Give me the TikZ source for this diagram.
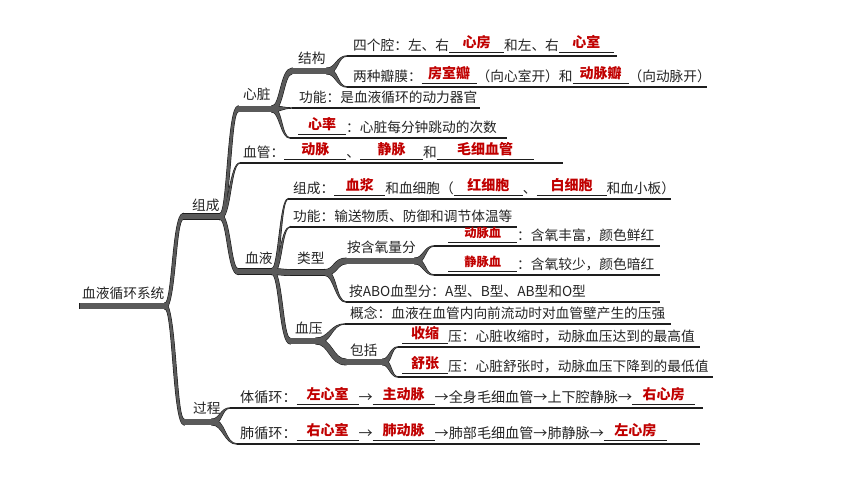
\documentclass[tikz,border=0pt]{standalone}
\usepackage{fontspec}
\setmainfont{Noto Sans CJK SC}
\usetikzlibrary{calc}

\definecolor{ansred}{RGB}{192,0,0}
\definecolor{limbgray}{RGB}{90,90,90}
\definecolor{lineblk}{RGB}{30,30,30}
\definecolor{txtblk}{RGB}{35,35,35}

\pgfdeclarelayer{under}
\pgfsetlayers{under,main}

\tikzset{
  txt/.style={anchor=base west, inner sep=0pt, text=txtblk, font=\fontsize{13.7}{16}\selectfont},
  widetxt/.style={txt, font=\fontsize{14.1}{16}\selectfont},
  uline/.style={draw=lineblk, line width=1.3pt},
}

% blank with the answer written on it
\newcommand\fillin[3][14]{\rlap{\textcolor{lineblk}{\rule[-2.8pt]{#2}{0.9pt}}}\makebox[#2]{\raisebox{3pt}{\fontsize{#1}{16}\selectfont\bfseries\color{ansred}#3}}}
\newcommand\toarr{\makebox[1em]{→}}

\newcommand\limbpath[5]{([yshift=#3]#1) .. controls ([shift={({0.55*#5*#3},#3)}]la) and ([shift={({0.55*#5*#4},#4)}]lb) .. ([yshift=#4]#2) -- ([yshift=-#4]#2) .. controls ([shift={({-0.55*#5*#4},-#4)}]lb) and ([shift={({-0.55*#5*#3},-#3)}]la) .. ([yshift=-#3]#1) -- cycle}

% tapered branch: parent end, child start, half widths, -1 up / 1 down
\newcommand\limb[5]{%
  \coordinate (lm) at ($(#1)!.5!(#2)$);
  \coordinate (la) at (lm |- #1);
  \coordinate (lb) at (lm |- #2);
  \begin{pgfonlayer}{under}
    \filldraw[lineblk, line width=1.2pt] \limbpath{#1}{#2}{#3}{#4}{#5};
  \end{pgfonlayer}
  \fill[limbgray] \limbpath{#1}{#2}{#3}{#4}{#5};}

\newcommand\trunk[2]{%
  \begin{pgfonlayer}{under}
    \draw[lineblk, line width=6.8pt] ([xshift=-0.6pt]#1) -- (#2);
  \end{pgfonlayer}
  \draw[limbgray, line width=5.6pt] (#1) -- (#2);}

\begin{document}
\begin{tikzpicture}[x=1pt,y=-1pt]
  \useasboundingbox (0,0) rectangle (860,484);

  % bars
  \coordinate (rootL) at (80,306);  \coordinate (rootR) at (165,306);
  \coordinate (zcL) at (183,216.5); \coordinate (zcR) at (220,216.5);
  \coordinate (gcL) at (184,422);   \coordinate (gcR) at (212,422);
  \coordinate (xzL) at (238,109);   \coordinate (xzR) at (272,109);
  \coordinate (xyL) at (238,271.5); \coordinate (xyR) at (272,271.5);
  \coordinate (jgL) at (292,71);    \coordinate (jgR) at (327,71);
  \coordinate (lxL) at (290,272.5); \coordinate (lxR) at (325,272.5);
  \coordinate (hyL) at (346,261);   \coordinate (hyR) at (415,261);
  \coordinate (xaL) at (290,341);   \coordinate (xaR) at (316,341);
  \coordinate (kkL) at (346,362);   \coordinate (kkR) at (383,362);

  % rows
  \coordinate (r1L) at (347,56);   \coordinate (r1R) at (617,56);
  \coordinate (r2L) at (347,87);   \coordinate (r2R) at (707,87);
  \coordinate (r3L) at (292,108);  \coordinate (r3R) at (480,108);
  \coordinate (r4L) at (290,138);  \coordinate (r4R) at (507,138);
  \coordinate (r5L) at (240,163);  \coordinate (r5R) at (563,163);
  \coordinate (r6L) at (288,199);  \coordinate (r6R) at (671,199);
  \coordinate (r7L) at (290,227);  \coordinate (r7R) at (517,227);
  \coordinate (r8L) at (434,246);  \coordinate (r8R) at (660,246);
  \coordinate (r9L) at (434,275);  \coordinate (r9R) at (660,275);
  \coordinate (r10L) at (346,302); \coordinate (r10R) at (660,302);
  \coordinate (r11L) at (345,324); \coordinate (r11R) at (671,324);
  \coordinate (r12L) at (398,347); \coordinate (r12R) at (700,347);
  \coordinate (r13L) at (398,377); \coordinate (r13R) at (713,377);
  \coordinate (r14L) at (230,408); \coordinate (r14R) at (703,408);
  \coordinate (r15L) at (237,444); \coordinate (r15R) at (700,444);

  \limb{rootR}{zcL}{2.8pt}{2.8pt}{-1}
  \limb{rootR}{gcL}{2.8pt}{2.8pt}{1}
  \limb{zcR}{xzL}{2.8pt}{2.8pt}{-1}
  \limb{zcR}{r5L}{2.8pt}{0.1pt}{-1}
  \limb{zcR}{xyL}{2.8pt}{2.8pt}{1}
  \limb{xzR}{jgL}{2.8pt}{2.8pt}{-1}
  \limb{xzR}{r3L}{2.8pt}{0.1pt}{1}
  \limb{xzR}{r4L}{2.8pt}{0.1pt}{1}
  \limb{jgR}{r1L}{2.8pt}{0.1pt}{-1}
  \limb{jgR}{r2L}{2.8pt}{0.1pt}{1}
  \limb{xyR}{r6L}{2.8pt}{0.1pt}{-1}
  \limb{xyR}{r7L}{2.8pt}{0.1pt}{-1}
  \limb{xyR}{lxL}{2.8pt}{2.8pt}{1}
  \limb{xyR}{xaL}{2.8pt}{2.8pt}{1}
  \limb{lxR}{hyL}{2.8pt}{2.8pt}{-1}
  \limb{lxR}{r10L}{2.8pt}{0.1pt}{1}
  \limb{hyR}{r8L}{2.8pt}{0.1pt}{-1}
  \limb{hyR}{r9L}{2.8pt}{0.1pt}{1}
  \limb{xaR}{r11L}{2.8pt}{0.1pt}{-1}
  \limb{xaR}{kkL}{2.8pt}{2.8pt}{1}
  \limb{kkR}{r12L}{2.8pt}{0.1pt}{-1}
  \limb{kkR}{r13L}{2.8pt}{0.1pt}{1}
  \limb{gcR}{r14L}{2.8pt}{0.1pt}{-1}
  \limb{gcR}{r15L}{2.8pt}{0.1pt}{1}

  \foreach \b in {root,zc,gc,xz,xy,jg,lx,hy,xa,kk}
    {\trunk{\b L}{\b R}}
  \foreach \r in {1,...,15}
    \draw[uline] (r\r L) -- (r\r R);

  \node[txt] (root) at (82,298.5) {血液循环系统};
  \node[txt] (zc) at (192,210.5) {组成};
  \node[txt] (gc) at (193,413.5) {过程};
  \node[txt] (xz) at (243,100) {心脏};
  \node[txt] (jg) at (298,63.5) {结构};
  \node[txt] (xy) at (245,263.5) {血液};
  \node[txt] (lx) at (297,263.5) {类型};
  \node[txt] (hy) at (347,252.5) {按含氧量分};
  \node[txt] (xa) at (295,333.5) {血压};
  \node[txt] (kk) at (350,355) {包括};

  \node[txt] (r1) at (353,50.1) {四个腔：左、右\fillin{55pt}{心房}和左、右\fillin{55pt}{心室}};
  \node[txt] (r2) at (353,81.1) {两种瓣膜：\fillin{55pt}{房室瓣}（向心室开）和\fillin{56pt}{动脉瓣}（向动脉开）};
  \node[txt] (r3) at (299,102.1) {功能：是血液循环的动力器官};
  \node[txt] (r4) at (298,132.1) {\fillin{48pt}{心率}：心脏每分钟跳动的次数};
  \node[txt] (r5) at (243,157.1) {血管：\fillin{62pt}{动脉}、\fillin{63pt}{静脉}和\fillin{97pt}{毛细血管}};
  \node[txt] (r6) at (293,193.1) {组成：\fillin{51pt}{血浆}和血细胞（\fillin{69pt}{红细胞}、\fillin{70pt}{白细胞}和血小板）};
  \node[txt] (r7) at (293,221.1) {功能：输送物质、防御和调节体温等};
  \node[txt] (r8) at (448,240.1) {\fillin[12.3]{69pt}{动脉血}：含氧丰富，颜色鲜红};
  \node[txt] (r9) at (448,269.1) {\fillin[12.3]{69pt}{静脉血}：含氧较少，颜色暗红};
  \node[txt] (r10) at (349,296.1) {按ABO血型分：A型、B型、AB型和O型};
  \node[txt] (r11) at (350,318.1) {概念：血液在血管内向前流动时对血管壁产生的压强};
  \node[txt] (r12) at (402,341.1) {\fillin{46pt}{收缩}压：心脏收缩时，动脉血压达到的最高值};
  \node[txt] (r13) at (402,371.1) {\fillin{46pt}{舒张}压：心脏舒张时，动脉血压下降到的最低值};
  \node[widetxt] (r14) at (240,402.1) {体循环：\fillin{62pt}{左心室}\toarr\fillin{62pt}{主动脉}\toarr 全身毛细血管\toarr 上下腔静脉\toarr\fillin{63pt}{右心房}};
  \node[widetxt] (r15) at (240,438.1) {肺循环：\fillin{62pt}{右心室}\toarr\fillin{62pt}{肺动脉}\toarr 肺部毛细血管\toarr 肺静脉\toarr\fillin{63pt}{左心房}};
\end{tikzpicture}
\end{document}
